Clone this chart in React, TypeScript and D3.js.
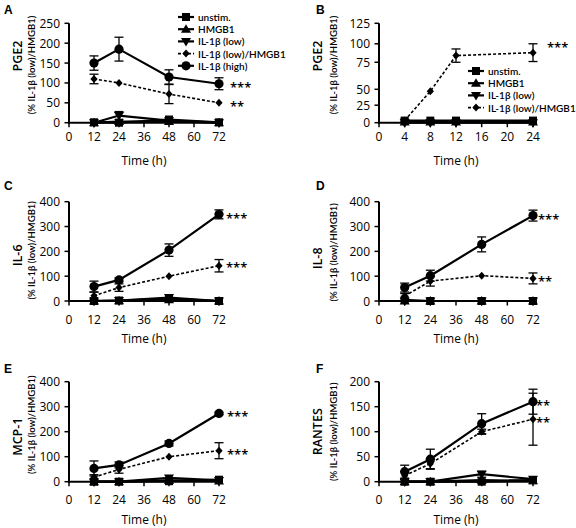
import React from "react";
import * as d3 from "d3";

const FONT = "'Open Sans', Lato, sans-serif";
const NARROW_FONT = "Lato, 'Open Sans', sans-serif";
const LETTER_FONT = "'Liberation Sans', Arial, sans-serif";

const SERIES_NAMES = ["unstim.", "HMGB1", "IL-1β (low)", "IL-1β (low)/HMGB1", "IL-1β (high)"];
const SERIES_SHAPES = ["square", "triangleUp", "triangleDown", "diamond", "circle"];
const SERIES_DASHED = [false, false, false, true, false];

const TIMES = [12, 24, 48, 72];
const TIMES_B = [4, 8, 12, 24];
const X_TICKS = [0, 12, 24, 36, 48, 60, 72];
const X_TICKS_B = [0, 4, 8, 12, 16, 20, 24];

// Panel A — PGE2 (72 h)
const A_UNSTIM = [1, 0, 8, 1];
const A_HMGB1 = [0, 3, 3, 0];
const A_LOW = [0, 18, 5, 0];
const A_LOW_ERR = [0, 10, 0, 0];
const A_COMBO = [110, 100, 72, 50];
const A_COMBO_ERR = [12, 0, 24, 0];
const A_HIGH = [150, 185, 115, 98];
const A_HIGH_ERR = [18, 30, 18, 15];

// Panel B — PGE2 (24 h)
const B_UNSTIM = [3, 3, 3, 3];
const B_HMGB1 = [1, 1, 1, 1];
const B_LOW = [0, 0, 0, 0];
const B_COMBO = [3, 47, 84, 88];
const B_COMBO_ERR = [2, 0, 9, 12];

// Panel C — IL-6
const C_UNSTIM = [0, 2, 10, 0];
const C_HMGB1 = [0, 1, 5, 0];
const C_LOW = [0, 2, 14, 0];
const C_COMBO = [21, 54, 100, 142];
const C_COMBO_ERR = [15, 15, 0, 25];
const C_HIGH = [58, 85, 205, 349];
const C_HIGH_ERR = [22, 8, 25, 18];

// Panel D — IL-8
const D_UNSTIM = [5, 0, 0, 0];
const D_HMGB1 = [0, 0, 0, 0];
const D_LOW = [0, 0, 0, 0];
const D_COMBO = [20, 80, 102, 91];
const D_COMBO_ERR = [10, 20, 0, 22];
const D_HIGH = [54, 102, 228, 344];
const D_HIGH_ERR = [18, 22, 30, 22];

// Panel E — MCP-1
const E_UNSTIM = [0, 0, 2, 8];
const E_HMGB1 = [0, 0, 5, 3];
const E_LOW = [0, 0, 15, 5];
const E_COMBO = [18, 49, 100, 124];
const E_COMBO_ERR = [10, 15, 0, 32];
const E_HIGH = [53, 67, 153, 273];
const E_HIGH_ERR = [30, 12, 10, 5];

// Panel F — RANTES
const F_UNSTIM = [0, 0, 0, 3];
const F_HMGB1 = [0, 0, 3, 2];
const F_LOW = [0, 0, 15, 5];
const F_LOW_ERR = [0, 0, 6, 0];
const F_COMBO = [12, 36, 100, 125];
const F_COMBO_ERR = [8, 10, 5, 52];
const F_HIGH = [20, 45, 116, 160];
const F_HIGH_ERR = [13, 20, 20, 25];

const ZERO = [0, 0, 0, 0];

const Y_TICKS_A = [0, 50, 100, 150, 200, 250];
const Y_TICKS_B = [0, 25, 50, 75, 100, 125];
const Y_TICKS_CDE = [0, 100, 200, 300, 400];
const Y_TICKS_F = [0, 50, 100, 150, 200];
// the reference's B axis is unevenly spaced; relative tick positions
const B_TICK_FRACTIONS = [0, 0.176, 0.336, 0.608, 0.794, 1];

const Y_TITLE_SUB = "(% IL-1β (low)/HMGB1)";

function mk(vals: number[][], errs: number[][]) {
  return vals.map((v, i) => ({
    name: SERIES_NAMES[i],
    shape: SERIES_SHAPES[i],
    dashed: SERIES_DASHED[i],
    values: v,
    errors: errs[i],
  }));
}

const COLS = [
  { left: 69, right: 219, t1x: 17, t2x: 31, letterX: 4 },
  { left: 379, right: 533, t1x: 317, t2x: 333, letterX: 316 },
];
const ROWS = [
  { bottom: 122.7, top: 23.3, tickDy: 14, letterY: 13.5 },
  { bottom: 301, top: 201.7, tickDy: 18.5, letterY: 190 },
  { bottom: 481.7, top: 381.7, tickDy: 18, letterY: 373 },
];

const PANELS = [
  {
    letter: "A", col: 0, row: 0, title: "PGE2", titleDy: [-17, -8],
    times: TIMES, xTicks: X_TICKS, xType: "linear", yTicks: Y_TICKS_A,
    series: mk([A_UNSTIM, A_HMGB1, A_LOW, A_COMBO, A_HIGH], [ZERO, ZERO, A_LOW_ERR, A_COMBO_ERR, A_HIGH_ERR]),
    stars: [{ text: "***", value: 98 }, { text: "**", value: 50 }], starDx: 11,
    legend: { x: 178, y: 17 },
  },
  {
    letter: "B", col: 1, row: 0, title: "PGE2", titleDy: [-17, -8],
    times: TIMES_B, xTicks: X_TICKS_B, xType: "point", yTicks: Y_TICKS_B, yFractions: B_TICK_FRACTIONS,
    series: mk([B_UNSTIM, B_HMGB1, B_LOW, B_COMBO], [ZERO, ZERO, ZERO, B_COMBO_ERR]),
    stars: [{ text: "***", value: 100 }], starDx: 14,
    legend: { x: 468, y: 71 },
  },
  {
    letter: "C", col: 0, row: 1, title: "IL-6", titleDy: [4, -1],
    times: TIMES, xTicks: X_TICKS, xType: "linear", yTicks: Y_TICKS_CDE,
    series: mk([C_UNSTIM, C_HMGB1, C_LOW, C_COMBO, C_HIGH], [ZERO, ZERO, ZERO, C_COMBO_ERR, C_HIGH_ERR]),
    stars: [{ text: "***", value: 347 }, { text: "***", value: 150 }], starDx: 7,
  },
  {
    letter: "D", col: 1, row: 1, title: "IL-8", titleDy: [7, 1],
    times: TIMES, xTicks: X_TICKS, xType: "linear", yTicks: Y_TICKS_CDE,
    series: mk([D_UNSTIM, D_HMGB1, D_LOW, D_COMBO, D_HIGH], [ZERO, ZERO, ZERO, D_COMBO_ERR, D_HIGH_ERR]),
    stars: [{ text: "***", value: 344 }, { text: "**", value: 93 }], starDx: 5,
  },
  {
    letter: "E", col: 0, row: 2, title: "MCP-1", titleDy: [5, -7],
    times: TIMES, xTicks: X_TICKS, xType: "linear", yTicks: Y_TICKS_CDE,
    series: mk([E_UNSTIM, E_HMGB1, E_LOW, E_COMBO, E_HIGH], [ZERO, ZERO, ZERO, E_COMBO_ERR, E_HIGH_ERR]),
    stars: [{ text: "***", value: 275 }, { text: "***", value: 123 }], starDx: 8,
  },
  {
    letter: "F", col: 1, row: 2, title: "RANTES", titleDy: [0, 0],
    times: TIMES, xTicks: X_TICKS, xType: "linear", yTicks: Y_TICKS_F,
    series: mk([F_UNSTIM, F_HMGB1, F_LOW, F_COMBO, F_HIGH], [ZERO, ZERO, F_LOW_ERR, F_COMBO_ERR, F_HIGH_ERR]),
    stars: [{ text: "**", value: 160 }, { text: "**", value: 125 }], starDx: 3,
  },
];

function Marker({ shape, x, y }: { shape: string; x: number; y: number }) {
  if (shape === "square") return <rect x={x - 4} y={y - 4} width={8} height={8} fill="#000" />;
  if (shape === "circle") return <circle cx={x} cy={y} r={4.6} fill="#000" />;
  if (shape === "diamond")
    return <path d={`M${x},${y - 4}L${x + 3.6},${y}L${x},${y + 4}L${x - 3.6},${y}Z`} fill="#000" />;
  if (shape === "triangleUp")
    return <path d={`M${x},${y - 5}L${x + 5},${y + 3.5}L${x - 5},${y + 3.5}Z`} fill="#000" />;
  return <path d={`M${x},${y + 5}L${x + 5},${y - 3.5}L${x - 5},${y - 3.5}Z`} fill="#000" />;
}

function Panel({ p }: { p: any }) {
  const c = COLS[p.col];
  const r = ROWS[p.row];
  const x: any =
    p.xType === "point"
      ? d3.scalePoint<number>().domain(p.xTicks).range([c.left, c.right])
      : d3.scaleLinear().domain([0, d3.max(p.xTicks) as number]).range([c.left, c.right]);
  const y: any = p.yFractions
    ? d3
        .scaleLinear()
        .domain(p.yTicks)
        .range(p.yFractions.map((f: number) => r.bottom - f * (r.bottom - r.top)))
    : d3.scaleLinear().domain([0, d3.max(p.yTicks) as number]).range([r.bottom, r.top]);
  const line = d3
    .line<number>()
    .x((_, i) => x(p.times[i]))
    .y((v) => y(v));
  const mid = (r.bottom + r.top) / 2;
  const lastT = p.times[p.times.length - 1];
  return (
    <g fontFamily={FONT}>
      <text x={c.letterX} y={r.letterY} fontFamily={LETTER_FONT} fontWeight="bold" fontSize={12}>
        {p.letter}
      </text>
      <text
        transform={`translate(${c.t1x},${mid + p.titleDy[0]}) rotate(-90)`}
        textAnchor="middle"
        dominantBaseline="central"
        fontSize={12.5}
        fontWeight={600}
      >
        {p.title}
      </text>
      <text
        transform={`translate(${c.t2x},${mid + p.titleDy[1]}) rotate(-90)`}
        textAnchor="middle"
        dominantBaseline="central"
        fontFamily={NARROW_FONT}
        fontSize={9.5}
        fontWeight={600}
      >
        {Y_TITLE_SUB}
      </text>
      <line x1={c.left} x2={c.left} y1={r.top} y2={r.bottom + 1} stroke="#000" strokeWidth={2} />
      <line x1={c.left - 1} x2={c.right} y1={r.bottom} y2={r.bottom} stroke="#000" strokeWidth={2} />
      {p.yTicks.map((t: number) => (
        <g key={"y" + t}>
          <line x1={c.left - 4.5} x2={c.left} y1={y(t)} y2={y(t)} stroke="#000" strokeWidth={1.5} />
          <text x={c.left - 9} y={y(t)} textAnchor="end" dominantBaseline="central" fontSize={12}>
            {t}
          </text>
        </g>
      ))}
      {p.xTicks.map((t: number) => (
        <g key={"x" + t}>
          <line x1={x(t)} x2={x(t)} y1={r.bottom} y2={r.bottom + 4.5} stroke="#000" strokeWidth={1.5} />
          <text x={x(t)} y={r.bottom + r.tickDy} textAnchor="middle" dominantBaseline="central" fontSize={12}>
            {t}
          </text>
        </g>
      ))}
      <text x={(c.left + c.right) / 2} y={r.bottom + 37.5} textAnchor="middle" dominantBaseline="central" fontSize={12}>
        Time (h)
      </text>
      {p.series.map((s: any) => (
        <g key={s.name}>
          <path
            d={line(s.values) as string}
            fill="none"
            stroke="#000"
            strokeWidth={s.dashed ? 1.6 : 2.2}
            strokeDasharray={s.dashed ? "3,2" : undefined}
          />
          {s.values.map((v: number, j: number) =>
            s.errors[j] > 0 ? (
              <g key={"e" + j} stroke="#000" strokeWidth={1.3}>
                <line x1={x(p.times[j])} x2={x(p.times[j])} y1={y(v - s.errors[j])} y2={y(v + s.errors[j])} />
                <line x1={x(p.times[j]) - 4.5} x2={x(p.times[j]) + 4.5} y1={y(v + s.errors[j])} y2={y(v + s.errors[j])} />
                <line x1={x(p.times[j]) - 4.5} x2={x(p.times[j]) + 4.5} y1={y(v - s.errors[j])} y2={y(v - s.errors[j])} />
              </g>
            ) : null
          )}
          {s.values.map((v: number, j: number) => (
            <Marker key={"m" + j} shape={s.shape} x={x(p.times[j])} y={y(v)} />
          ))}
        </g>
      ))}
      {p.stars.map((s: any, i: number) => (
        <text key={"s" + i} x={x(lastT) + p.starDx} y={y(s.value) + 8} fontSize={13} fontWeight={600}>
          {s.text}
        </text>
      ))}
      {p.legend &&
        p.series.map((s: any, i: number) => {
          const ly = p.legend.y + i * 12.2;
          return (
            <g key={"l" + i}>
              <line
                x1={p.legend.x}
                x2={p.legend.x + 16}
                y1={ly}
                y2={ly}
                stroke="#000"
                strokeWidth={s.dashed ? 1.6 : 2.2}
                strokeDasharray={s.dashed ? "3,2" : undefined}
              />
              <Marker shape={s.shape} x={p.legend.x + 8} y={ly} />
              <text
                x={p.legend.x + 20}
                y={ly}
                dominantBaseline="central"
                fontFamily={NARROW_FONT}
                fontSize={10}
                fontWeight={600}
              >
                {s.name}
              </text>
            </g>
          );
        })}
    </g>
  );
}

export default function App() {
  return (
    <svg width={576} height={528} style={{ position: "absolute", left: 0, top: 0, background: "#fff" }}>
      <rect width={576} height={528} fill="#fff" />
      {PANELS.map((p) => (
        <Panel key={p.letter} p={p} />
      ))}
    </svg>
  );
}
